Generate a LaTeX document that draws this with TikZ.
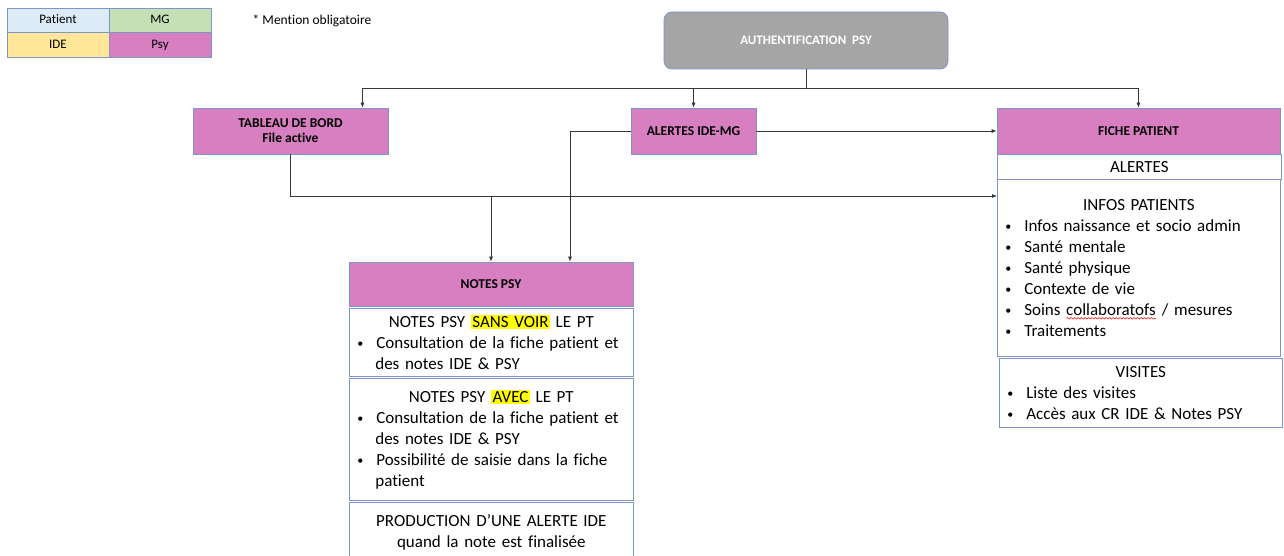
\documentclass[tikz,border=0pt]{standalone}
\usepackage{fontspec}
\setmainfont{Carlito}[Ligatures=NoCommon]
\usepackage{enumitem}
\usetikzlibrary{arrows.meta,decorations.pathmorphing}

\definecolor{psy}{RGB}{216,127,193}
\definecolor{patient}{RGB}{221,235,247}
\definecolor{mg}{RGB}{197,224,180}
\definecolor{ide}{RGB}{255,230,153}
\definecolor{gris}{RGB}{166,165,165}
\definecolor{bordure}{RGB}{125,150,200}
\definecolor{trait}{RGB}{55,55,55}
\definecolor{jaune}{RGB}{255,255,0}

\setlist[itemize]{label=\raisebox{1pt}{\fontsize{12}{12}\selectfont\textbullet}, nosep,
  leftmargin=20pt, labelwidth=5pt, labelsep=13pt, align=left}
\newcommand\surligne[1]{{\setlength\fboxsep{1.5pt}\colorbox{jaune}{#1}}}
\newlength\largeur
\newcommand\ondule[1]{\settowidth\largeur{#1}\rlap{#1}\tikz[baseline=0pt]\draw[red, line width=.5pt,
  decorate, decoration={snake, amplitude=.8pt, segment length=3.5pt}] (0pt,-3pt) -- (\largeur,-3pt);}

\tikzset{
  legende/.style={draw=bordure, line width=.6pt, minimum width=102pt, minimum height=24.5pt,
    font=\fontsize{13}{14}\selectfont, inner sep=0pt, text height=9pt, text depth=2.5pt},
  entete/.style={draw=bordure, fill=psy, line width=.7pt, align=center, inner sep=0pt,
    font=\fontsize{13.5}{15}\selectfont\bfseries},
  cadre/.style={draw=bordure, fill=white, line width=.7pt, anchor=north west, align=left,
    inner xsep=6pt, inner ysep=0pt, text width=272pt, font=\fontsize{17}{21}\selectfont},
  fleche/.style={draw=trait, line width=.7pt, -{Latex[length=5pt,width=4pt]}},
  lien/.style={draw=trait, line width=.7pt}
}

\begin{document}
\begin{tikzpicture}[x=1pt, y=-1pt]
  \useasboundingbox (0,0) rectangle (1284,556);

  % legende
  \node[legende, fill=patient] (patient) at (58,20.5) {Patient};
  \node[legende, fill=mg] (mg) at (160,20.5) {MG};
  \node[legende, fill=ide] (ide) at (58,45) {IDE};
  \node[legende, fill=psy] (psyleg) at (160,45) {Psy};
  \node[font=\fontsize{13.5}{14}\selectfont] (mention) at (312,21) {* Mention obligatoire};

  % boites du haut
  \node[draw=bordure, fill=gris, line width=.8pt, rounded corners=8pt, minimum width=284pt,
    minimum height=57pt, text=white, font=\fontsize{13}{15}\selectfont\bfseries]
    (auth) at (806,40.5) {AUTHENTIFICATION~~PSY};
  \node[entete, minimum width=195pt, minimum height=46pt] (tab) at (290.5,131)
    {TABLEAU DE BORD\\File active};
  \node[entete, minimum width=125pt, minimum height=46pt] (alertes) at (693.5,131)
    {ALERTES IDE-MG};
  \node[entete, minimum width=283pt, minimum height=46pt] (fiche) at (1138.5,131)
    {FICHE PATIENT};

  % colonne notes psy
  \node[entete, minimum width=284pt, minimum height=44pt] (notes) at (491,284) {NOTES PSY};
  \node[cadre, minimum height=68pt] (sansvoir) at (349,308) {%
    {\centering NOTES PSY \surligne{SANS VOIR} LE PT\par}
    \begin{itemize}
      \item Consultation de la fiche patient et\\des notes IDE \& PSY
    \end{itemize}};
  \node[cadre, minimum height=122pt] (avec) at (349,378) {%
    {\centering NOTES PSY \surligne{AVEC} LE PT\par}
    \begin{itemize}
      \item Consultation de la fiche patient et\\des notes IDE \& PSY
      \item Possibilité de saisie dans la fiche\\patient
    \end{itemize}};
  \node[cadre, minimum height=61pt, align=center] (production) at (349,502)
    {PRODUCTION D’UNE ALERTE IDE\\quand la note est finalisée};

  % colonne fiche patient
  \node[cadre, minimum height=25pt, align=center] (alertesfp) at (997,154) {ALERTES};
  \node[cadre, minimum height=177pt, text width=271pt] (infos) at (997,179) {%
    {\centering INFOS PATIENTS\par}
    \begin{itemize}
      \item Infos naissance et socio admin
      \item Santé mentale
      \item Santé physique
      \item Contexte de vie
      \item Soins \ondule{collaboratofs} / mesures
      \item Traitements
    \end{itemize}};
  \node[cadre, minimum height=69pt, text width=271pt] (visites) at (999,358) {%
    {\centering VISITES\par}
    \begin{itemize}
      \item Liste des visites
      \item Accès aux CR IDE \& Notes PSY
    \end{itemize}};

  % liaisons
  \coordinate (bus) at (806,88);
  \coordinate (jonction) at (491,196);
  \draw[lien] (auth.south) -- (bus);
  \draw[fleche] (bus) -| ([xshift=72pt]tab.north);
  \draw[fleche] (bus) -| (alertes.north);
  \draw[fleche] (bus) -| (fiche.north);
  \draw[fleche] (alertes.east) -- (fiche.west);
  \draw[fleche] (alertes.west) -| ([xshift=79pt]notes.north);
  \draw[fleche] (tab.south) |- ([yshift=-17pt]infos.north west);
  \draw[fleche] (jonction) -- (notes.north);
\end{tikzpicture}
\end{document}
